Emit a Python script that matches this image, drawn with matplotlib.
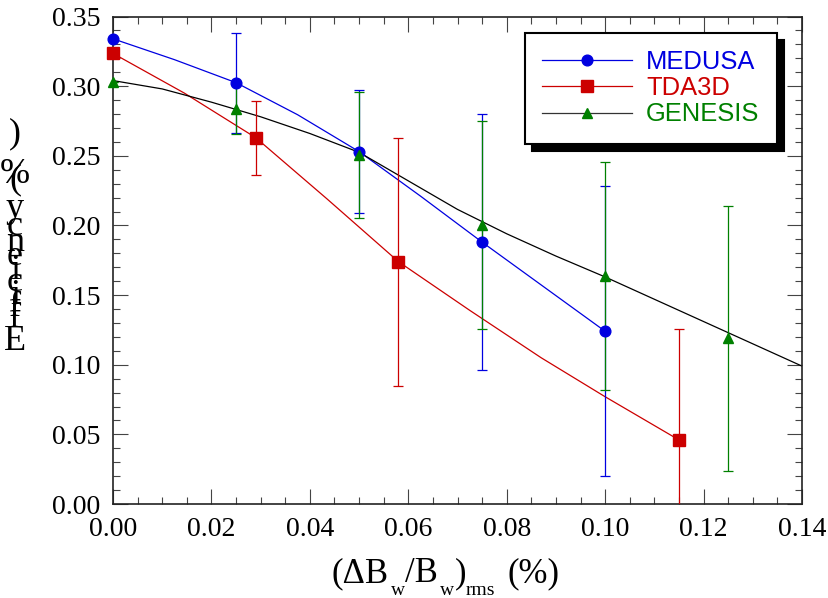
import matplotlib
matplotlib.use("Agg")
import matplotlib.pyplot as plt
from matplotlib.lines import Line2D

# data
medusa_x = [0.0, 0.025, 0.05, 0.075, 0.10]
medusa_y = [0.334, 0.3025, 0.253, 0.188, 0.124]
medusa_err = [0.0, 0.036, 0.044, 0.092, 0.104]

tda3d_x = [0.0, 0.029, 0.058, 0.115]
tda3d_y = [0.3235, 0.263, 0.174, 0.046]
tda3d_err = [0.0, 0.0265, 0.089, 0.080]

genesis_x = [0.0, 0.025, 0.05, 0.075, 0.10, 0.125]
genesis_y = [0.303, 0.2834, 0.2506, 0.2003, 0.1637, 0.119]
genesis_err = [0.0, 0.018, 0.045, 0.075, 0.082, 0.095]

# smooth curves as drawn on the chart
medusa_fit_x = [0.0, 0.0125, 0.025, 0.0375, 0.05, 0.0625, 0.075, 0.0875, 0.10]
medusa_fit_y = [0.334, 0.319, 0.3025, 0.2795, 0.253, 0.221, 0.188, 0.156, 0.124]
tda3d_fit_x = [0.0, 0.0145, 0.029, 0.0435, 0.058, 0.0725, 0.087, 0.100, 0.115]
tda3d_fit_y = [0.3235, 0.295, 0.263, 0.219, 0.174, 0.139, 0.105, 0.077, 0.046]
genesis_fit_x = [0.0, 0.01, 0.02, 0.03, 0.04, 0.05, 0.06, 0.07,
                 0.08, 0.09, 0.10, 0.11, 0.12, 0.13, 0.14]
genesis_fit_y = [0.304, 0.298, 0.2885, 0.278, 0.266, 0.2525, 0.232, 0.2115,
                 0.194, 0.178, 0.163, 0.147, 0.131, 0.115, 0.099]

labels = ["MEDUSA", "TDA3D", "GENESIS"]
xticks = [0.00, 0.02, 0.04, 0.06, 0.08, 0.10, 0.12, 0.14]
yticks = [0.00, 0.05, 0.10, 0.15, 0.20, 0.25, 0.30, 0.35]

BLUE = "#0000e0"
RED = "#cc0000"
GREEN = "#008000"
W, H = 829, 598
SERIF = "Liberation Serif"

fig = plt.figure(figsize=(W / 100, H / 100), dpi=100)
ax = fig.add_axes([113 / W, 1 - 504 / H, 689 / W, 487.5 / H])

# curves
ax.plot(medusa_fit_x, medusa_fit_y, color=BLUE, lw=0.9, zorder=2)
ax.plot(tda3d_fit_x, tda3d_fit_y, color=RED, lw=0.9, zorder=2)
ax.plot(genesis_fit_x, genesis_fit_y, color="black", lw=0.9, zorder=2)

# points + error bars
series = [
    (medusa_x, medusa_y, medusa_err, BLUE, "o", 7.7),
    (tda3d_x, tda3d_y, tda3d_err, RED, "s", 8.0),
    (genesis_x, genesis_y, genesis_err, GREEN, "^", 7.8),
]
for xs, ys, es, c, m, ms in series:
    ax.errorbar(xs, ys, yerr=es, fmt="none", ecolor=c, elinewidth=0.9,
                capsize=3.6, capthick=0.9, zorder=3)
    ax.plot(xs, ys, ls="none", marker=m, ms=ms, color=c, mec=c,
            zorder=4, clip_on=False)

ax.set_xlim(0, 0.14)
ax.set_ylim(0, 0.35)
ax.set_xticks(xticks)
ax.set_yticks(yticks)
ax.set_xticks([i * 0.005 for i in range(29)], minor=True)
ax.set_yticks([i * 0.01 for i in range(36)], minor=True)
ax.set_xticklabels([f"{v:.2f}" for v in xticks])
ax.set_yticklabels([f"{v:.2f}" for v in yticks])
ax.tick_params(which="both", direction="in", top=True, right=True,
               color="#444444", width=0.8)
ax.tick_params(which="major", length=11, pad=9, labelsize=20)
ax.tick_params(which="minor", length=5)
for lab in ax.get_xticklabels() + ax.get_yticklabels():
    lab.set_fontfamily(SERIF)
for sp in ax.spines.values():
    sp.set_linewidth(1.2)
    sp.set_color("#222222")

# legend
handles = [
    Line2D([], [], color=BLUE, lw=0.9, marker="o", ms=7.7, mfc=BLUE, mec=BLUE),
    Line2D([], [], color=RED, lw=0.9, marker="s", ms=8.0, mfc=RED, mec=RED),
    Line2D([], [], color="#333333", lw=0.9, marker="^", ms=7.8, mfc=GREEN, mec=GREEN),
]
leg = ax.legend(handles, labels, loc="upper left",
                bbox_to_anchor=((525 - 113) / 689, (504 - 33) / 487.5),
                prop={"family": "Liberation Sans", "size": 18.4},
                labelcolor=[BLUE, RED, GREEN], handlelength=3.5,
                handletextpad=0.55, borderpad=0.68, labelspacing=0.08,
                borderaxespad=0, fancybox=False, framealpha=1,
                edgecolor="black", facecolor="white",
                shadow={"ox": 5, "oy": -5, "facecolor": "black",
                        "edgecolor": "black", "alpha": 1})
leg.get_frame().set_linewidth(1.5)
leg.set_zorder(6)

# y label: upright letters stacked from bottom to top
ylab_chars = ["E", "f", "f", "i", "c", "i", "e", "n", "c", "y", "(", "%", ")"]
ylab_base = [350, 327, 316, 304, 291, 279, 265, 251, 235, 217, 188, 183, 142]
for ch, yb in zip(ylab_chars, ylab_base):
    fig.text(15 / W, 1 - yb / H, ch, ha="center", va="baseline",
             fontsize=26, family=SERIF)

# x label pieces
xlab_parts = [
    ("(\u0394B", 332, 582, 25),
    ("w", 391, 595, 14),
    ("/B", 405, 582, 25),
    ("w", 440, 595, 14),
    (")", 455, 582, 25),
    ("rms", 466, 595, 14),
    ("(%)", 508, 582, 25),
]
for txt, xp, yb, fs in xlab_parts:
    fig.text(xp / W, 1 - yb / H, txt, ha="left", va="baseline",
             fontsize=fs, family=SERIF)

fig.savefig("out.png", dpi=100)
